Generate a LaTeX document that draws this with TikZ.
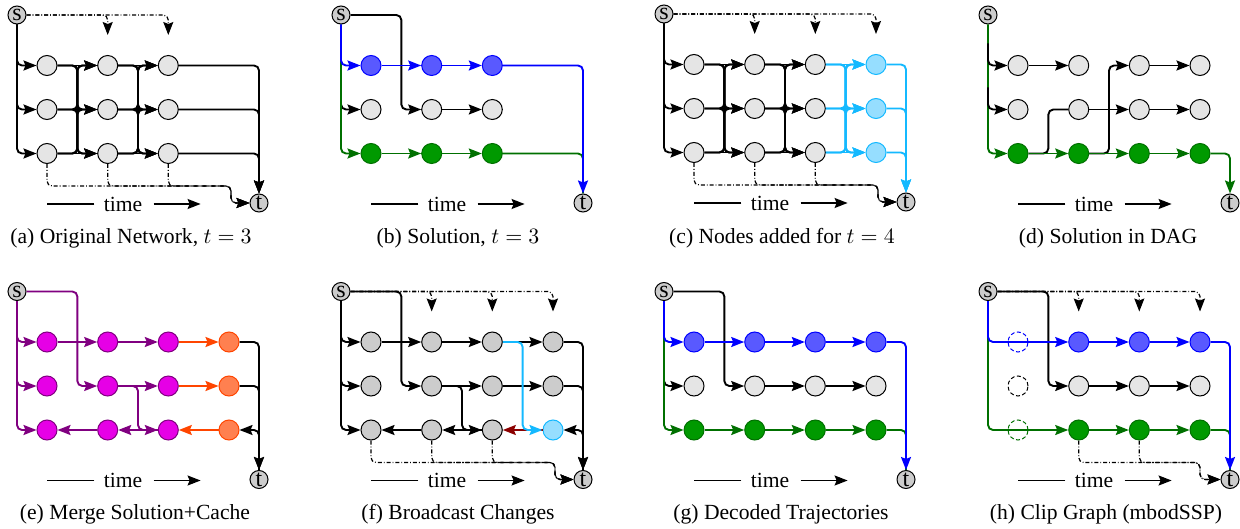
\documentclass[tikz,border=0pt]{standalone}
\usepackage{fontspec}
\setmainfont{Liberation Serif}
\usetikzlibrary{positioning,calc,arrows.meta}
\definecolor{cyanline}{RGB}{20,185,255}
\definecolor{cyanfill}{RGB}{150,222,255}
\definecolor{solgreen}{RGB}{0,112,0}
\definecolor{nodegreen}{RGB}{0,153,0}
\definecolor{mpurple}{RGB}{128,0,128}
\definecolor{mfill}{RGB}{230,0,230}
\definecolor{oline}{RGB}{255,69,0}
\definecolor{ofill}{RGB}{255,128,80}
\definecolor{darkred}{RGB}{139,0,0}
\tikzset{
  >={Stealth[length=6.5pt,width=5pt,inset=1pt]},
  vert/.style={circle,draw,line width=0.5pt,fill=gray!20,minimum size=10pt,inner sep=0pt},
  greyvert/.style={vert,fill=gray!40},
  bluevert/.style={vert,draw=blue,fill=blue!65},
  greenvert/.style={vert,draw=solgreen,fill=nodegreen},
  cyanvert/.style={vert,draw=cyanline,fill=cyanfill},
  magvert/.style={vert,draw=mpurple,fill=mfill},
  orangevert/.style={vert,draw=oline,fill=ofill},
  clipvert/.style={vert,fill=none,dash pattern=on 2pt off 1.2pt},
  term/.style={circle,draw,line width=0.5pt,fill=gray!40,minimum size=9pt,inner sep=0pt,font=\large},
  flow/.style={line width=0.95pt,rounded corners=2.5pt},
  dashdot/.style={line width=0.6pt,rounded corners=2.5pt,dash pattern=on 2pt off 1pt on 0.4pt off 1pt},
  timelab/.style={inner sep=0pt,font=\fontsize{10.8}{13}\selectfont},
  timeline/.style={line width=0.7pt},
  caption/.style={inner sep=0pt,font=\fontsize{10.8}{13}\selectfont}
}

\begin{document}
\begin{tikzpicture}[x=0.5pt,y=-0.5pt]
\useasboundingbox (0,0) rectangle (1240,529);

% (a) original network
\begin{scope}[shift={(17,15)}]
  \node[term] (sa) at (0,0) {s};
  \node[term] (ta) at (242,188) {t};
  \foreach \c/\x in {1/30,2/90.7,3/151.3}{
    \node[vert] (a1\c) at (\x,50.5) {};
    \node[vert] (a2\c) at (\x,94.5) {};
    \node[vert] (a3\c) at (\x,138.5) {};
  }
  \coordinate[above=10pt of a12] (qa2);
  \coordinate[above=10pt of a13] (qa3);
  \coordinate (ka) at (214,171);
  \foreach \r in {1,2,3}{
    \draw[flow,->] (sa) |- (a\r1);
    \draw[flow,->] (a\r3) -| (ta);
  }
  \foreach \c/\d in {1/2,2/3}
    \foreach \r in {1,2,3}
      \foreach \q in {1,2,3}{
        \ifnum\r=\q\relax \draw[flow,->] (a\r\c) -- (a\q\d);
        \else \draw[flow,->] (a\r\c) -| ($(a\q\c)!.5!(a\q\d)$) -- (a\q\d); \fi
      }
  \draw[dashdot,->] (sa) -| (qa2);
  \draw[dashdot,->] (sa) -| (qa3);
  \foreach \c in {1,2,3} \draw[dashdot,->] (a3\c) |- (ka) |- (ta);
  \node[timelab] (timea) at (106,189) {time};
  \draw[timeline] ([xshift=-4.5pt]timea.west) -- ++(-23.5pt,0);
  \draw[timeline,->] ([xshift=5.5pt]timea.east) -- ++(23.5pt,0);
  \node[caption] (capa) at (114,223) {(a) Original Network, $t=3$};
\end{scope}

% (b) solution
\begin{scope}[shift={(341,15)}]
  \node[term] (sb) at (0,0) {s};
  \node[term] (tb) at (242,188) {t};
  \foreach \c/\x in {1/30,2/90.7,3/151.3}{
    \node[bluevert] (b1\c) at (\x,50.5) {};
    \node[vert] (b2\c) at (\x,94.5) {};
    \node[greenvert] (b3\c) at (\x,138.5) {};
  }
  \coordinate (ub2) at (0,72.5);
  \draw[flow,->] (sb) -| ($(b21)!.5!(b22)$) -- (b22);
  \draw[flow,->] (ub2) |- (b21);
  \draw[flow,->] (b22) -- (b23);
  \draw[flow,solgreen,->] (sb) |- (b31);
  \draw[flow,solgreen,->] (b31) -- (b32);
  \draw[flow,solgreen,->] (b32) -- (b33);
  \draw[flow,solgreen] (b33) -| (tb);
  \draw[flow,blue,->] (sb) |- (b11);
  \draw[flow,blue,->] (b11) -- (b12);
  \draw[flow,blue,->] (b12) -- (b13);
  \draw[flow,blue,->] (b13) -| (tb);
  \node[timelab] (timeb) at (106,189) {time};
  \draw[timeline] ([xshift=-4.5pt]timeb.west) -- ++(-23.5pt,0);
  \draw[timeline,->] ([xshift=5.5pt]timeb.east) -- ++(23.5pt,0);
  \node[caption] (capb) at (117,223) {(b) Solution, $t=3$};
\end{scope}

% (c) nodes added for t=4
\begin{scope}[shift={(664,14)}]
  \node[term] (sc) at (0,0) {s};
  \node[term] (tc) at (242,188) {t};
  \foreach \c/\x in {1/30,2/90.7,3/151.3}{
    \node[vert] (c1\c) at (\x,50.5) {};
    \node[vert] (c2\c) at (\x,94.5) {};
    \node[vert] (c3\c) at (\x,138.5) {};
  }
  \foreach \r/\y in {1/50.5,2/94.5,3/138.5}
    \node[cyanvert] (c\r4) at (212,\y) {};
  \coordinate[above=10pt of c12] (qc2);
  \coordinate[above=10pt of c13] (qc3);
  \coordinate[above=10pt of c14] (qc4);
  \coordinate (kc) at (214,171);
  \foreach \r in {1,2,3}{
    \draw[flow,->] (sc) |- (c\r1);
    \draw[flow,cyanline,->] (c\r4) -| (tc);
  }
  \foreach \c/\d in {1/2,2/3}
    \foreach \r in {1,2,3}
      \foreach \q in {1,2,3}{
        \ifnum\r=\q\relax \draw[flow,->] (c\r\c) -- (c\q\d);
        \else \draw[flow,->] (c\r\c) -| ($(c\q\c)!.5!(c\q\d)$) -- (c\q\d); \fi
      }
  \foreach \r in {1,2,3}
    \foreach \q in {1,2,3}{
      \ifnum\r=\q\relax \draw[flow,cyanline,->] (c\r3) -- (c\q4);
      \else \draw[flow,cyanline,->] (c\r3) -| ($(c\q3)!.5!(c\q4)$) -- (c\q4); \fi
    }
  \draw[dashdot,->] (sc) -| (qc2);
  \draw[dashdot,->] (sc) -| (qc3);
  \draw[dashdot,->] (sc) -| (qc4);
  \foreach \c in {1,2,3} \draw[dashdot,->] (c3\c) |- (kc) |- (tc);
  \node[timelab] (timec) at (106,189) {time};
  \draw[timeline] ([xshift=-4.5pt]timec.west) -- ++(-23.5pt,0);
  \draw[timeline,->] ([xshift=5.5pt]timec.east) -- ++(23.5pt,0);
  \node[caption] (capc) at (118,224) {(c) Nodes added for $t=4$};
\end{scope}

% (d) solution in DAG
\begin{scope}[shift={(988,15)}]
  \node[term] (sd) at (0,0) {s};
  \node[term] (td) at (242,188) {t};
  \foreach \c/\x in {1/30,2/90.7,3/151.3,4/212}{
    \node[vert] (d1\c) at (\x,50.5) {};
    \node[vert] (d2\c) at (\x,94.5) {};
    \node[greenvert] (d3\c) at (\x,138.5) {};
  }
  \coordinate (ud1) at (0,28.5);
  \coordinate (ud2) at (0,72.5);
  \draw[flow,solgreen,->] (sd) |- (d31);
  \draw[flow,->] (ud1) |- (d11);
  \draw[flow,->] (ud2) |- (d21);
  \draw[flow,->] (d11) -- (d12);
  \draw[flow,->] (d13) -- (d14);
  \draw[flow,->] (d22) -- (d23);
  \draw[flow,->] (d23) -- (d24);
  \draw[flow] (d31) -| ($(d21)!.5!(d22)$) -- (d22);
  \draw[flow,->] (d32) -| ($(d12)!.5!(d13)$) -- (d13);
  \draw[flow,solgreen,->] (d31) -- (d32);
  \draw[flow,solgreen,->] (d32) -- (d33);
  \draw[flow,solgreen,->] (d33) -- (d34);
  \draw[flow,solgreen,->] (d34) -| (td);
  \node[timelab] (timed) at (106,189) {time};
  \draw[timeline] ([xshift=-4.5pt]timed.west) -- ++(-23.5pt,0);
  \draw[timeline,->] ([xshift=5.5pt]timed.east) -- ++(23.5pt,0);
  \node[caption] (capd) at (120,223) {(d) Solution in DAG};
\end{scope}

% (e) merge solution and cache
\begin{scope}[shift={(17,291.5)}]
  \node[term] (se) at (0,0) {s};
  \node[term] (te) at (242,188) {t};
  \foreach \c/\x in {1/30,2/90.7,3/151.3}{
    \node[magvert] (e1\c) at (\x,50.5) {};
    \node[magvert] (e2\c) at (\x,94.5) {};
    \node[magvert] (e3\c) at (\x,138.5) {};
  }
  \foreach \r/\y in {1/50.5,2/94.5,3/138.5}
    \node[orangevert] (e\r4) at (212,\y) {};
  \draw[flow,mpurple,->] (se) -| ($(e21)!.5!(e22)$) -- (e22);
  \foreach \r in {1,2,3} \draw[flow,mpurple,->] (se) |- (e\r1);
  \draw[flow,mpurple,->] (e11) -- (e12);
  \draw[flow,mpurple,->] (e12) -- (e13);
  \draw[flow,mpurple,->] (e22) -- (e23);
  \draw[flow,mpurple,->] (e22) -| ($(e32)!.5!(e33)$) -- (e33);
  \draw[flow,mpurple,->] (e33) -- (e32);
  \draw[flow,mpurple,->] (e32) -- (e31);
  \draw[flow,oline,->] (e13) -- (e14);
  \draw[flow,oline,->] (e23) -- (e24);
  \draw[flow,oline,->] (e34) -- (e33);
  \draw[flow,->] (e14) -| (te);
  \draw[flow,->] (e24) -| (te);
  \draw[flow,->] (te) |- (e34);
  \node[timelab] (timee) at (106,189) {time};
  \draw[timeline] ([xshift=-4.5pt]timee.west) -- ++(-23.5pt,0);
  \draw[timeline,->] ([xshift=5.5pt]timee.east) -- ++(23.5pt,0);
  \node[caption] (cape) at (118,223) {(e) Merge Solution+Cache};
\end{scope}

% (f) broadcast changes
\begin{scope}[shift={(341,291.5)}]
  \node[term] (sf) at (0,0) {s};
  \node[term] (tf) at (242,188) {t};
  \foreach \c/\x in {1/30,2/90.7,3/151.3,4/212}{
    \node[greyvert] (f1\c) at (\x,50.5) {};
    \node[greyvert] (f2\c) at (\x,94.5) {};
  }
  \foreach \c/\x in {1/30,2/90.7,3/151.3}
    \node[greyvert] (f3\c) at (\x,138.5) {};
  \node[cyanvert] (f34) at (212,138.5) {};
  \coordinate[above=10pt of f12] (qf2);
  \coordinate[above=10pt of f13] (qf3);
  \coordinate[above=10pt of f14] (qf4);
  \coordinate (kf) at (214,171);
  \draw[flow,->] (sf) -| ($(f21)!.5!(f22)$) -- (f22);
  \foreach \r in {1,2,3} \draw[flow,->] (sf) |- (f\r1);
  \draw[flow,->] (f11) -- (f12);
  \draw[flow,->] (f12) -- (f13);
  \draw[flow,->] (f13) -- (f14);
  \draw[flow,->] (f22) -- (f23);
  \draw[flow,->] (f23) -- (f24);
  \draw[flow,->] (f22) -| ($(f32)!.5!(f33)$) -- (f33);
  \draw[flow,->] (f33) -- (f32);
  \draw[flow,->] (f32) -- (f31);
  \draw[flow,darkred,->] (f34) -- (f33);
  \draw[flow,cyanline,->] (f13) -| ($(f33)!.5!(f34)$) -- (f34);
  \draw[flow,->] (f14) -| (tf);
  \draw[flow,->] (f24) -| (tf);
  \draw[flow,->] (tf) |- (f34);
  \draw[dashdot,->] (sf) -| (qf2);
  \draw[dashdot,->] (sf) -| (qf3);
  \draw[dashdot,->] (sf) -| (qf4);
  \foreach \c in {1,2,3} \draw[dashdot,->] (f3\c) |- (kf) |- (tf);
  \node[timelab] (timef) at (106,189) {time};
  \draw[timeline] ([xshift=-4.5pt]timef.west) -- ++(-23.5pt,0);
  \draw[timeline,->] ([xshift=5.5pt]timef.east) -- ++(23.5pt,0);
  \node[caption] (capf) at (117,223) {(f) Broadcast Changes};
\end{scope}

% (g) decoded trajectories
\begin{scope}[shift={(664,291.5)}]
  \node[term] (sg) at (0,0) {s};
  \node[term] (tg) at (242,188) {t};
  \foreach \c/\x in {1/30,2/90.7,3/151.3,4/212}{
    \node[bluevert] (g1\c) at (\x,50.5) {};
    \node[vert] (g2\c) at (\x,94.5) {};
    \node[greenvert] (g3\c) at (\x,138.5) {};
  }
  \coordinate (ug2) at (0,72.5);
  \draw[flow,->] (sg) -| ($(g21)!.5!(g22)$) -- (g22);
  \draw[flow,->] (ug2) |- (g21);
  \draw[flow,->] (g22) -- (g23);
  \draw[flow,->] (g23) -- (g24);
  \draw[flow,solgreen,->] (sg) |- (g31);
  \draw[flow,solgreen,->] (g31) -- (g32);
  \draw[flow,solgreen,->] (g32) -- (g33);
  \draw[flow,solgreen,->] (g33) -- (g34);
  \draw[flow,solgreen] (g34) -| (tg);
  \draw[flow,blue,->] (sg) |- (g11);
  \draw[flow,blue,->] (g11) -- (g12);
  \draw[flow,blue,->] (g12) -- (g13);
  \draw[flow,blue,->] (g13) -- (g14);
  \draw[flow,blue,->] (g14) -| (tg);
  \node[timelab] (timeg) at (106,189) {time};
  \draw[timeline] ([xshift=-4.5pt]timeg.west) -- ++(-23.5pt,0);
  \draw[timeline,->] ([xshift=5.5pt]timeg.east) -- ++(23.5pt,0);
  \node[caption] (capg) at (117,223) {(g) Decoded Trajectories};
\end{scope}

% (h) clip graph
\begin{scope}[shift={(988,291.5)}]
  \node[term] (sh) at (0,0) {s};
  \node[term] (th) at (242,188) {t};
  \node[clipvert,draw=blue] (h11) at (30,50.5) {};
  \node[clipvert] (h21) at (30,94.5) {};
  \node[clipvert,draw=solgreen] (h31) at (30,138.5) {};
  \foreach \c/\x in {2/90.7,3/151.3,4/212}{
    \node[bluevert] (h1\c) at (\x,50.5) {};
    \node[vert] (h2\c) at (\x,94.5) {};
    \node[greenvert] (h3\c) at (\x,138.5) {};
  }
  \coordinate[above=10pt of h12] (qh2);
  \coordinate[above=10pt of h13] (qh3);
  \coordinate[above=10pt of h14] (qh4);
  \coordinate (kh) at (212,171);
  \draw[flow,->] (sh) -| ($(h21)!.5!(h22)$) -- (h22);
  \draw[flow,->] (h22) -- (h23);
  \draw[flow,->] (h23) -- (h24);
  \draw[flow,solgreen,->] (sh) |- (h32);
  \draw[flow,solgreen,->] (h32) -- (h33);
  \draw[flow,solgreen,->] (h33) -- (h34);
  \draw[flow,solgreen] (h34) -| (th);
  \draw[flow,blue,->] (sh) |- (h12);
  \draw[flow,blue,->] (h12) -- (h13);
  \draw[flow,blue,->] (h13) -- (h14);
  \draw[flow,blue,->] (h14) -| (th);
  \draw[dashdot,->] (sh) -| (qh2);
  \draw[dashdot,->] (sh) -| (qh3);
  \draw[dashdot,->] (sh) -| (qh4);
  \foreach \c in {2,3} \draw[dashdot,->] (h3\c) |- (kh) |- (th);
  \node[timelab] (timeh) at (106,189) {time};
  \draw[timeline] ([xshift=-4.5pt]timeh.west) -- ++(-23.5pt,0);
  \draw[timeline,->] ([xshift=5.5pt]timeh.east) -- ++(23.5pt,0);
  \node[caption] (caph) at (118,223) {(h) Clip Graph (mbodSSP)};
\end{scope}
\end{tikzpicture}
\end{document}
